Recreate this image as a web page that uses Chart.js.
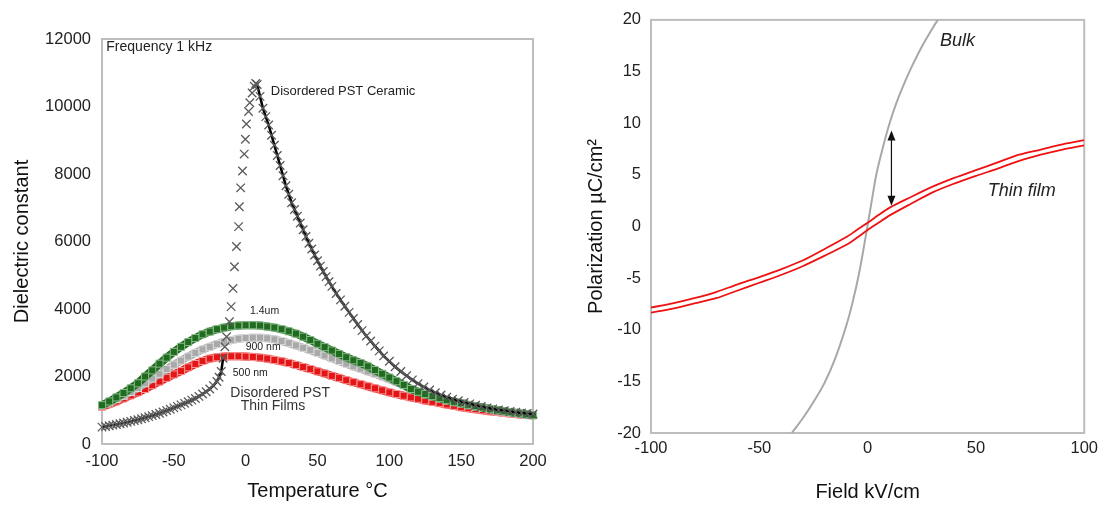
<!DOCTYPE html>
<html>
<head>
<meta charset="utf-8">
<script src="https://cdn.jsdelivr.net/npm/chart.js"></script>
<style>
  html, body { margin: 0; padding: 0; background: #fff; }
  #wrap { position: relative; width: 1104px; height: 507px; }
  #left { position: absolute; left: 0; top: 0; }
  #right { position: absolute; left: 560px; top: 0; }
</style>
</head>
<body>
<div id="wrap">
  <canvas id="left" width="560" height="507"></canvas>
  <canvas id="right" width="544" height="507"></canvas>
</div>
<script>
// ---- left panel: dielectric constant vs temperature ----
const ceramicT = [-100, -97.5, -95, -92.5, -90, -87.5, -85, -82.5, -80, -77.5, -75, -72.5, -70, -67.5, -65, -62.5, -60,
  -57.5, -55, -52.5, -50, -47.5, -45, -42.5, -40, -37.5, -35, -32.5, -30, -27.5, -25, -22.5, -20, -18.5, -17,
  -15.7, -14.5, -13.3, -11.3, -10.1, -8.8, -7.8, -6.4, -4.9, -4.4, -3.5, -2.2, -1, -0.2, 0.5, 2, 2.9, 4.5, 6, 7, 8,
  10, 12, 14, 16, 18, 20, 22, 24, 26, 28, 30, 32, 34, 36, 38, 40, 42, 44, 46, 48, 50, 52, 54, 56, 58, 60,
  63, 66, 69, 72, 75, 78, 81, 84, 87, 90, 93, 96, 100, 104, 108, 112, 116, 120, 124, 128, 132, 136, 140,
  144, 148, 152, 156, 160, 164, 168, 172, 176, 180, 184, 188, 192, 196, 200];
const ceramicEps = [500, 520, 540, 560, 580, 600, 620, 645, 670, 695, 720, 750, 780, 810, 840, 875, 910,
  950, 990, 1030, 1070, 1115, 1160, 1205, 1250, 1300, 1350, 1410, 1480, 1550, 1630, 1730, 1850, 1980, 2150,
  2540, 2880, 3180, 3620, 4070, 4610, 5250, 5850, 6440, 7030, 7590, 8090, 8590, 9030, 9480, 9850, 10110, 10400, 10600, 10680, 10650,
  10300, 9950, 9700, 9450, 9150, 8850, 8550, 8250, 7950, 7650, 7400, 7150, 6950, 6750, 6550, 6350, 6150, 5950, 5780, 5600, 5430, 5270, 5110, 4960, 4810, 4670,
  4460, 4270, 4080, 3900, 3720, 3540, 3360, 3200, 3050, 2900, 2760, 2610, 2450, 2290, 2150, 2020, 1900, 1790, 1690, 1600, 1520, 1450, 1390,
  1330, 1280, 1230, 1190, 1150, 1110, 1070, 1040, 1010, 990, 965, 940, 920, 905, 890];

const filmT = [-100, -95, -90, -85, -80, -75, -70, -65, -60, -55, -50, -45, -40, -35, -30, -25, -20, -15, -10, -5,
  0, 5, 10, 15, 20, 25, 30, 35, 40, 45, 50, 55, 60, 65, 70, 75, 80, 85, 90, 95,
  100, 105, 110, 115, 120, 125, 130, 135, 140, 145, 150, 155, 160, 165, 170, 175, 180, 185, 190, 195, 200];
const film1400 = [1150, 1260, 1380, 1510, 1650, 1800, 2000, 2180, 2380, 2560, 2730, 2880, 3020, 3140, 3250, 3330, 3400, 3450, 3490, 3510,
  3520, 3520, 3510, 3480, 3450, 3400, 3340, 3270, 3180, 3080, 2970, 2870, 2770, 2670, 2570, 2480, 2400, 2300, 2190, 2080,
  1970, 1860, 1750, 1630, 1550, 1480, 1420, 1360, 1300, 1250, 1210, 1160, 1120, 1080, 1040, 1000, 970, 940, 910, 880, 850];
const film900 = [1140, 1230, 1330, 1430, 1540, 1660, 1800, 1940, 2080, 2220, 2350, 2470, 2590, 2700, 2800, 2880, 2960, 3030, 3080, 3120,
  3140, 3150, 3150, 3130, 3100, 3050, 2990, 2920, 2850, 2780, 2700, 2620, 2540, 2460, 2380, 2300, 2230, 2150, 2080, 2000,
  1920, 1830, 1740, 1630, 1550, 1470, 1410, 1350, 1290, 1240, 1200, 1150, 1110, 1070, 1030, 995, 960, 930, 900, 875, 850];
const film500 = [1100, 1180, 1260, 1350, 1440, 1530, 1630, 1740, 1850, 1960, 2060, 2160, 2270, 2370, 2460, 2530, 2570, 2590, 2600, 2600,
  2590, 2580, 2560, 2530, 2490, 2450, 2400, 2340, 2280, 2220, 2150, 2090, 2020, 1960, 1890, 1830, 1770, 1710, 1650, 1590,
  1530, 1480, 1430, 1380, 1340, 1290, 1250, 1210, 1170, 1130, 1090, 1060, 1030, 1000, 970, 950, 920, 900, 880, 860, 850];

const tempTicks = [-100, -50, 0, 50, 100, 150, 200];
const epsTicks = [0, 2000, 4000, 6000, 8000, 10000, 12000];

// ---- right panel: polarization vs field ----
const loopUpperE = [100, 90, 80, 70, 60, 50, 40, 30, 20, 10, 5, 0, -5, -10, -20, -30, -40, -50, -60, -70, -80, -90, -100];
const loopUpperP = [8.35, 7.95, 7.45, 6.95, 6.2, 5.45, 4.7, 3.85, 2.85, 1.8, 1.1, 0.35, -0.35, -1.05, -2.2, -3.3, -4.15, -4.9, -5.6, -6.35, -6.95, -7.45, -7.85];
const loopLowerE = [-100, -90, -80, -70, -60, -50, -40, -30, -20, -10, -5, 0, 5, 10, 20, 30, 40, 50, 60, 70, 80, 90, 100];
const loopLowerP = [-8.35, -7.95, -7.45, -6.95, -6.2, -5.45, -4.7, -3.85, -2.85, -1.8, -1.1, -0.35, 0.35, 1.05, 2.2, 3.3, 4.15, 4.9, 5.6, 6.35, 6.95, 7.45, 7.85];
const bulkE = [-35, -30, -25, -20, -15, -10, -7, -4, -1, 2, 4, 7, 10, 13, 16, 20, 25, 30, 33];
const bulkP = [-20, -18.6, -17.0, -15.2, -12.8, -9.7, -7.4, -4.6, -1.1, 2.6, 5.0, 7.6, 9.9, 11.8, 13.4, 15.3, 17.4, 19.2, 20.2];
const arrowAt = { x: 11, from: 9.3, to: 2.0 };

const fieldTicks = [-100, -50, 0, 50, 100];
const polTicks = [-20, -15, -10, -5, 0, 5, 10, 15, 20];

const FONT = '"Liberation Sans", Arial, Helvetica, sans-serif';
const zip = (xs, ys) => xs.map((x, i) => ({ x: x, y: ys[i] }));

// grey frame round the plot area
const framePlugin = {
  id: 'frame',
  beforeDatasetsDraw(chart) {
    const { ctx, chartArea: a } = chart;
    ctx.save();
    ctx.strokeStyle = '#bdbdbd';
    ctx.lineWidth = 2;
    ctx.strokeRect(a.left, a.top, a.width, a.height);
    ctx.restore();
  }
};

// text notes placed in data coordinates
const notesPlugin = {
  id: 'notes',
  afterDatasetsDraw(chart, args, opts) {
    const { ctx, scales } = chart;
    ctx.save();
    (opts.items || []).forEach(n => {
      ctx.font = n.font;
      ctx.fillStyle = n.color || '#222';
      ctx.textAlign = n.align || 'left';
      ctx.textBaseline = 'middle';
      ctx.fillText(n.text, scales.x.getPixelForValue(n.x), scales.y.getPixelForValue(n.y));
    });
    const ar = opts.arrow;
    if (ar) {
      const x = scales.x.getPixelForValue(ar.x);
      const y1 = scales.y.getPixelForValue(ar.from);
      const y2 = scales.y.getPixelForValue(ar.to);
      ctx.strokeStyle = '#111';
      ctx.fillStyle = '#111';
      ctx.lineWidth = 1.2;
      ctx.beginPath();
      ctx.moveTo(x, y1 + 8);
      ctx.lineTo(x, y2 - 8);
      ctx.stroke();
      ctx.beginPath();
      ctx.moveTo(x, y1); ctx.lineTo(x - 4, y1 + 10); ctx.lineTo(x + 4, y1 + 10); ctx.closePath(); ctx.fill();
      ctx.beginPath();
      ctx.moveTo(x, y2); ctx.lineTo(x - 4, y2 - 10); ctx.lineTo(x + 4, y2 - 10); ctx.closePath(); ctx.fill();
    }
    ctx.restore();
  }
};

function axis(min, max, ticks, title, titlePad, tickPad, size, isY) {
  return {
    type: 'linear',
    min: min,
    max: max,
    afterBuildTicks: s => { s.ticks = ticks.map(v => ({ value: v })); },
    afterFit: s => { if (isY) s.width = size; else s.height = size; },
    grid: { display: false, drawTicks: false },
    border: { display: false },
    ticks: {
      padding: tickPad, color: '#222', font: { family: FONT, size: 16.5 },
      callback: v => String(v)
    },
    title: { display: true, text: title, color: '#111', padding: titlePad, font: { family: FONT, size: 20 } }
  };
}

Chart.defaults.font.family = FONT;

function filmSet(values, color, edge) {
  return {
    data: zip(filmT, values),
    showLine: true,
    borderColor: color,
    borderWidth: 8,
    pointStyle: 'rect',
    pointRadius: 5,
    pointBackgroundColor: color,
    pointBorderColor: edge,
    pointBorderWidth: 1
  };
}

new Chart(document.getElementById('left'), {
  type: 'scatter',
  data: {
    datasets: [
      {
        data: zip(ceramicT, ceramicEps),
        showLine: true,
        borderColor: '#000',
        borderWidth: 2.5,
        pointStyle: 'crossRot',
        pointRadius: 6,
        pointBorderWidth: 1.3,
        pointBorderColor: '#5a5a5a',
        segment: {
          borderColor: c => (c.p0.parsed.x > -16.5 && c.p1.parsed.x < 9) ? 'transparent' : '#000'
        }
      },
      filmSet(film1400, '#1f6b1f', '#8cbb8c'),
      filmSet(film900, '#a9a9a9', '#dadada'),
      filmSet(film500, '#e41515', '#f79a9a')
    ]
  },
  options: {
    responsive: false,
    animation: false,
    devicePixelRatio: 1,
    clip: 6,
    layout: { padding: { left: 0, top: 39, right: 27, bottom: 0 } },
    scales: {
      x: axis(-100, 200, tempTicks, 'Temperature \u00B0C', { top: 0, bottom: 4 }, 8, 63, false),
      y: axis(0, 12000, epsTicks, 'Dielectric constant', { top: 10, bottom: 0 }, 11, 102, true)
    },
    plugins: {
      legend: { display: false },
      tooltip: { enabled: false },
      notes: {
        items: [
          { text: 'Frequency 1 kHz', x: -97, y: 11750, font: '14px ' + FONT },
          { text: 'Disordered PST Ceramic', x: 17.5, y: 10460, font: '13px ' + FONT },
          { text: '1.4um', x: 3, y: 3930, font: '10.5px ' + FONT },
          { text: '900 nm', x: 0, y: 2880, font: '10.5px ' + FONT },
          { text: '500 nm', x: -9, y: 2110, font: '10.5px ' + FONT },
          { text: 'Disordered PST', x: 24, y: 1520, font: '14px ' + FONT, align: 'center', color: '#333' },
          { text: 'Thin Films', x: 19, y: 1120, font: '14px ' + FONT, align: 'center', color: '#333' }
        ]
      }
    }
  },
  plugins: [framePlugin, notesPlugin]
});

new Chart(document.getElementById('right'), {
  type: 'scatter',
  data: {
    datasets: [
      {
        data: zip(loopUpperE, loopUpperP),
        showLine: true, borderColor: '#ee1111', borderWidth: 1.8, pointRadius: 0, tension: 0.3
      },
      {
        data: zip(loopLowerE, loopLowerP),
        showLine: true, borderColor: '#ee1111', borderWidth: 1.8, pointRadius: 0, tension: 0.3
      },
      {
        data: zip(bulkE, bulkP),
        showLine: true, borderColor: '#a8a8a8', borderWidth: 2, pointRadius: 0, tension: 0.4
      }
    ]
  },
  options: {
    responsive: false,
    animation: false,
    devicePixelRatio: 1,
    layout: { padding: { left: 0, top: 18, right: 17, bottom: 0 } },
    scales: {
      x: axis(-100, 100, fieldTicks, 'Field kV/cm', { top: 0, bottom: 3 }, 6, 74, false),
      y: axis(-20, 20, polTicks, 'Polarization \u00B5C/cm\u00B2', { top: 24, bottom: 0 }, 10, 91, true)
    },
    plugins: {
      legend: { display: false },
      tooltip: { enabled: false },
      notes: {
        items: [
          { text: 'Bulk', x: 33.4, y: 18.0, font: 'italic 18px ' + FONT },
          { text: 'Thin film', x: 55.5, y: 3.4, font: 'italic 18px ' + FONT }
        ],
        arrow: arrowAt
      }
    }
  },
  plugins: [framePlugin, notesPlugin]
});
</script>
</body>
</html>
